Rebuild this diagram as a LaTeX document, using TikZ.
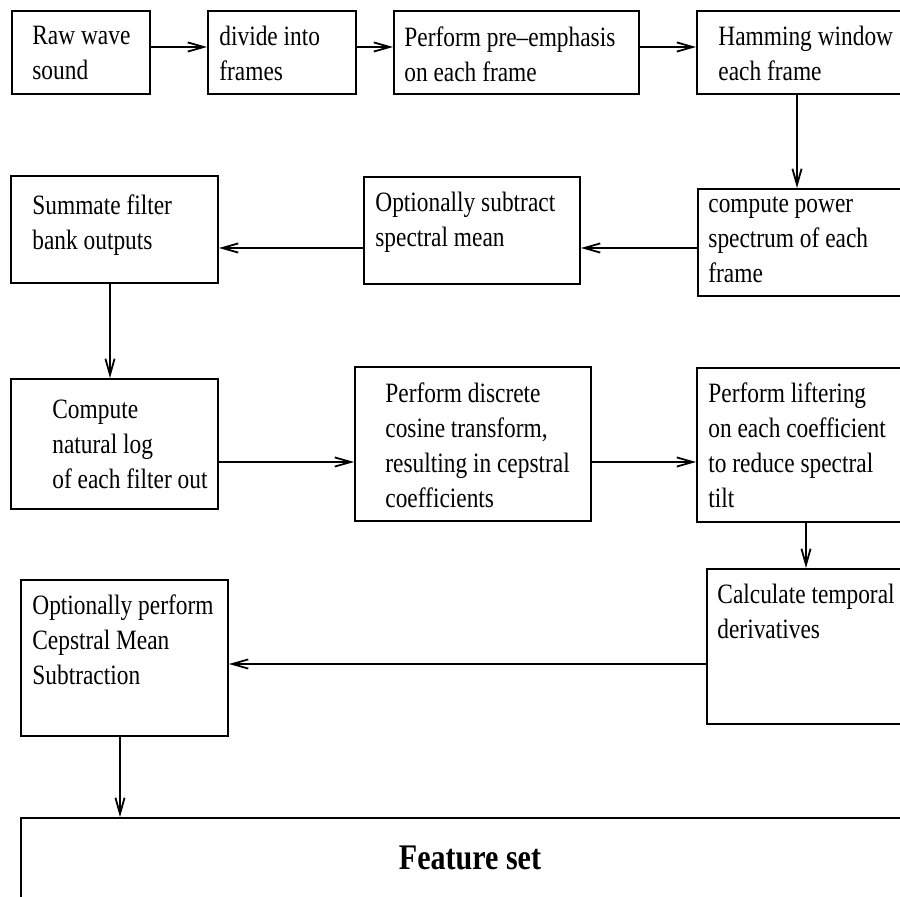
\documentclass[tikz,border=0pt]{standalone}
\usepackage{fontspec}
\setmainfont{Liberation Serif}[FakeStretch=0.835]
\usepackage{tikz}
\usetikzlibrary{arrows.meta,fit}

\tikzset{
	stagebox/.style={draw, line width=1pt, inner sep=0pt},
	stagetext/.style={anchor=north west, inner sep=0pt, align=left, font=\fontsize{14}{17.5}\selectfont},
	flow/.style={line width=0.9pt, -{Straight Barb[length=8pt,width=4.6pt]}},
}

\begin{document}
\begin{tikzpicture}[x=0.5pt, y=-0.5pt]
		%%%%% START %%%%%
		\useasboundingbox (0,0) rectangle (900,897);
		\clip (0,0) rectangle (900,897);
		
		\coordinate (toprow) at (0,47);
		\coordinate (specrow) at (0,248);
		\coordinate (cepsrow) at (0,462);
		\coordinate (derivrow) at (0,664);
		\coordinate (hamlane) at (797,0);
		\coordinate (sumlane) at (110,0);
		\coordinate (liftlane) at (806,0);
		\coordinate (cmslane) at (120,0);
		
		% first row
		\node[stagebox, fit={(12,11) (150,94)}] (raw) {};
		\node[stagebox, fit={(208,11) (356,94)}] (divide) {};
		\node[stagebox, fit={(394,11) (639,94)}] (preemph) {};
		\node[stagebox, fit={(697,11) (906,94)}] (hamming) {};
		\node[stagetext] (rawtxt) at (32,26) {Raw wave\\sound};
		\node[stagetext] (dividetxt) at (219,26) {divide into\\frames};
		\node[stagetext] (preemphtxt) at (404,26) {Perform pre--emphasis\\on each frame};
		\node[stagetext] (hammingtxt) at (718,26) {Hamming window\\each frame};
		
		% second row
		\node[stagebox, fit={(698,189) (906,296)}] (power) {};
		\node[stagebox, fit={(364,177) (580,284)}] (subtract) {};
		\node[stagebox, fit={(11,176) (218,283)}] (summate) {};
		\node[stagetext] (powertxt) at (708,196) {compute power\\spectrum of each\\frame};
		\node[stagetext] (subtracttxt) at (375,192) {Optionally subtract\\spectral mean};
		\node[stagetext] (summatetxt) at (32,194) {Summate filter\\bank outputs};
		
		% third row
		\node[stagebox, fit={(11,379) (218,509)}] (natlog) {};
		\node[stagebox, fit={(355,367) (591,521)}] (dct) {};
		\node[stagebox, fit={(697,368) (906,522)}] (lifter) {};
		\node[stagetext] (natlogtxt) at (52,400) {Compute\\natural log\\of each filter out};
		\node[stagetext] (dcttxt) at (385,382) {Perform discrete\\cosine transform,\\resulting in cepstral\\coefficients};
		\node[stagetext] (liftertxt) at (708,382) {Perform liftering\\on each coefficient\\to reduce spectral\\tilt};
		
		% fourth row
		\node[stagebox, fit={(707,569) (906,724)}] (deriv) {};
		\node[stagebox, fit={(21,580) (228,736)}] (cms) {};
		\node[stagetext] (derivtxt) at (717,584) {Calculate temporal\\derivatives};
		\node[stagetext] (cmstxt) at (32,594) {Optionally perform\\Cepstral Mean\\Subtraction};
		
		\node[stagebox, fit={(21,818) (906,906)}] (feature) {};
		\node[font=\fontsize{18}{21}\selectfont\bfseries] (featuretxt) at (470,858) {Feature set};
		
		% connectors
		\draw[flow] (raw.east |- toprow) -- (divide.west |- toprow);
		\draw[flow] (divide.east |- toprow) -- (preemph.west |- toprow);
		\draw[flow] (preemph.east |- toprow) -- (hamming.west |- toprow);
		\draw[flow] (hamming.south -| hamlane) -- (power.north -| hamlane);
		\draw[flow] (power.west |- specrow) -- (subtract.east |- specrow);
		\draw[flow] (subtract.west |- specrow) -- (summate.east |- specrow);
		\draw[flow] (summate.south -| sumlane) -- (natlog.north -| sumlane);
		\draw[flow] (natlog.east |- cepsrow) -- (dct.west |- cepsrow);
		\draw[flow] (dct.east |- cepsrow) -- (lifter.west |- cepsrow);
		\draw[flow] (lifter.south -| liftlane) -- (deriv.north -| liftlane);
		\draw[flow] (deriv.west |- derivrow) -- (cms.east |- derivrow);
		\draw[flow] (cms.south -| cmslane) -- (feature.north -| cmslane);
		
		%%%%% END %%%%%
\end{tikzpicture}
\end{document}
